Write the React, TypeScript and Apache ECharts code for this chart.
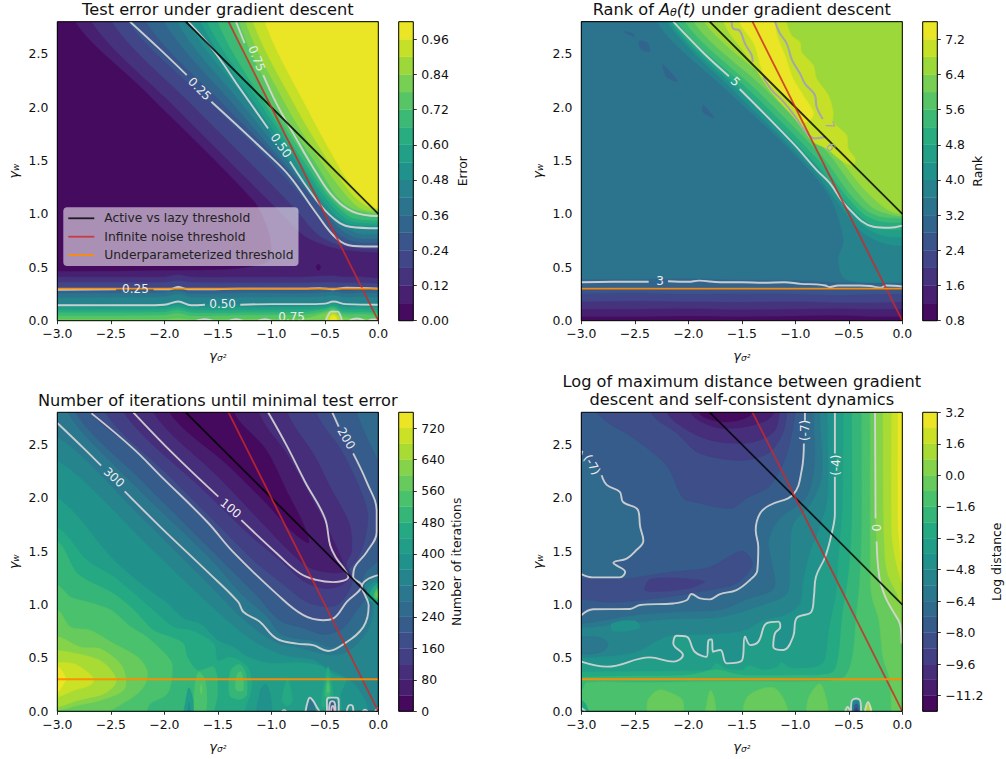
import React, { useEffect, useRef } from "react";
import * as echarts from "echarts";

type P = number[];
const L = -3.4, R = 0.4, T = 3.2, B = -0.4;
const FONT = "DejaVu Sans";

// closing helpers: they carry a curve's ends out past the plot so the clip trims them
const upperRight = (c: P[]): P[] => [...c, [R, c[c.length - 1][1]], [R, T], [c[0][0], T]];
const lowerRight = (c: P[]): P[] => [...c, [L, c[c.length - 1][1]], [L, B], [R, B], [R, T], [c[0][0], T]];
const rightOf = (c: P[]): P[] => [...c, [c[c.length - 1][0], B], [R, B], [R, T], [c[0][0], T]];
const topOpen = (c: P[]): P[] => [...c, [c[c.length - 1][0], T], [c[0][0], T]];
const bottomOpen = (c: P[]): P[] => [...c, [c[c.length - 1][0], B], [c[0][0], B]];
const below = (c: P[]): P[] => [...c, [R, c[c.length - 1][1]], [R, B], [L, B], [L, c[0][1]]];
const above = (c: P[]): P[] => [...c, [R, c[c.length - 1][1]], [R, T], [L, T], [L, c[0][1]]];
const lowerLeft = (c: P[]): P[] => [...c, [c[c.length - 1][0], B], [L, B], [L, c[0][1]]];
const leftOpen = (c: P[]): P[] => [...c, [L, c[c.length - 1][1]], [L, c[0][1]]];
const strip = (xs: number[], ys: number[]): P[] => xs.map((x, i) => [x, ys[i]]);
const FULL: P[] = [[L, B], [R, B], [R, T], [L, T]];

// Threshold lines
const activeLine: P[] = [[-1.8, 2.8], [0, 1]];
const noiseLine: P[] = [[-1.4, 2.8], [0, 0]];
const underLine: P[] = [[-3, 0.3], [0, 0.3]];
const xTicks = [-3, -2.5, -2, -1.5, -1, -0.5, 0];
const yTicks = [0, 0.5, 1, 1.5, 2, 2.5];

// ---------- Panel 1 : test error ----------
const errorLevels = [0, 0.06, 0.12, 0.18, 0.24, 0.3, 0.36, 0.42, 0.48, 0.54, 0.6, 0.66, 0.72, 0.78, 0.84, 0.9, 0.96, 1.02];
const errorTicks = [0, 0.12, 0.24, 0.36, 0.48, 0.6, 0.72, 0.84, 0.96];
const errLowX = [-3, -2.4, -2, -1.87, -1.75, -1.2, -0.7, -0.5, -0.42, -0.33, -0.15, 0];
const errorBands: [number, P[]][] = [
  [0, FULL],
  [1, [[-2.83, 2.8], [-2.2, 2.17], [-1.17, 1.13], [-1.04, 0.88], [-1.0, 0.7], [-1.02, 0.56], [-1.3, 0.49], [-2, 0.47], [-3, 0.46], [L, 0.46], [L, B], [R, B], [R, T], [-2.83, T]]],
  [2, upperRight([[-2.68, 2.8], [-1.9, 2.0], [-1.4, 1.5], [-0.95, 1.05], [-0.7, 0.8], [-0.45, 0.69], [-0.2, 0.65], [0, 0.64]])],
  [3, upperRight([[-2.49, 2.8], [-1.72, 2.0], [-1.22, 1.5], [-0.78, 1.05], [-0.58, 0.82], [-0.4, 0.72], [-0.2, 0.68], [0, 0.67]])],
  [4, upperRight([[-2.34, 2.8], [-1.53, 2.0], [-1.02, 1.5], [-0.6, 1.03], [-0.4, 0.78], [-0.23, 0.705], [0, 0.7]])],
  [5, upperRight([[-2.17, 2.8], [-1.42, 2.0], [-0.93, 1.5], [-0.55, 1.07], [-0.38, 0.82], [-0.22, 0.74], [0, 0.73]])],
  [6, upperRight([[-2.0, 2.8], [-1.33, 2.0], [-0.89, 1.49], [-0.55, 1.1], [-0.36, 0.86], [-0.2, 0.775], [0, 0.77]])],
  [7, upperRight([[-1.88, 2.8], [-1.25, 2.0], [-0.85, 1.5], [-0.55, 1.12], [-0.37, 0.92], [-0.2, 0.82], [0, 0.81]])],
  [8, upperRight([[-1.78, 2.8], [-1.18, 2.0], [-0.83, 1.5], [-0.58, 1.14], [-0.42, 0.96], [-0.265, 0.88], [0, 0.86]])],
  [9, upperRight([[-1.66, 2.8], [-1.13, 2.0], [-0.78, 1.5], [-0.54, 1.15], [-0.38, 0.97], [-0.25, 0.9], [0, 0.89]])],
  [10, upperRight([[-1.6, 2.8], [-1.08, 2.0], [-0.74, 1.5], [-0.51, 1.17], [-0.36, 1.0], [-0.24, 0.93], [0, 0.91]])],
  [11, upperRight([[-1.5, 2.8], [-1.04, 2.0], [-0.7, 1.5], [-0.48, 1.18], [-0.34, 1.03], [-0.23, 0.96], [0, 0.94]])],
  [12, upperRight([[-1.38, 2.8], [-0.99, 2.0], [-0.66, 1.5], [-0.45, 1.17], [-0.3, 1.03], [-0.22, 1.0], [0, 0.97]])],
  [13, upperRight([[-1.3, 2.8], [-0.93, 2.0], [-0.6, 1.5], [-0.39, 1.17], [-0.24, 1.05], [0, 1.0]])],
  [14, upperRight([[-1.24, 2.8], [-0.85, 2.0], [-0.54, 1.5], [-0.32, 1.2], [-0.18, 1.06], [0, 1.02]])],
  [15, upperRight([[-1.17, 2.8], [-0.77, 2.0], [-0.47, 1.5], [-0.26, 1.2], [-0.12, 1.08], [0, 1.04]])],
  [16, upperRight([[-1.06, 2.8], [-0.655, 1.97], [-0.4, 1.5], [-0.29, 1.32], [-0.135, 1.13], [0, 1.05]])],
  [2, below(strip(errLowX, [0.41, 0.41, 0.41, 0.43, 0.41, 0.41, 0.41, 0.42, 0.42, 0.41, 0.41, 0.4]))],
  [3, below(strip(errLowX, [0.36, 0.36, 0.36, 0.375, 0.36, 0.355, 0.355, 0.36, 0.36, 0.355, 0.355, 0.35]))],
  [4, below(strip(errLowX, [0.305, 0.305, 0.305, 0.32, 0.3, 0.305, 0.305, 0.31, 0.31, 0.3, 0.305, 0.305]))],
  [5, below(strip(errLowX, [0.28, 0.28, 0.285, 0.3, 0.28, 0.285, 0.28, 0.29, 0.295, 0.28, 0.285, 0.285]))],
  [6, below(strip(errLowX, [0.255, 0.255, 0.26, 0.28, 0.25, 0.26, 0.255, 0.265, 0.27, 0.255, 0.26, 0.26]))],
  [7, below(strip(errLowX, [0.215, 0.22, 0.225, 0.25, 0.22, 0.22, 0.22, 0.23, 0.24, 0.22, 0.225, 0.22]))],
  [8, below(strip(errLowX, [0.155, 0.155, 0.16, 0.185, 0.155, 0.155, 0.16, 0.165, 0.18, 0.16, 0.16, 0.155]))],
  [9, below(strip(errLowX, [0.125, 0.125, 0.13, 0.15, 0.125, 0.125, 0.13, 0.14, 0.16, 0.13, 0.13, 0.125]))],
  [10, below(strip(errLowX, [0.1, 0.1, 0.105, 0.125, 0.1, 0.1, 0.105, 0.12, 0.14, 0.105, 0.105, 0.1]))],
  [11, below(strip(errLowX, [0.075, 0.075, 0.08, 0.1, 0.075, 0.075, 0.08, 0.105, 0.125, 0.08, 0.08, 0.075]))],
  [12, below(strip(errLowX, [0.045, 0.045, 0.05, 0.07, 0.045, 0.05, 0.055, 0.085, 0.11, 0.06, 0.06, 0.05]))],
  [13, below(strip(errLowX, [0.012, 0.012, 0.012, 0.02, 0.012, 0.015, 0.02, 0.07, 0.095, 0.035, 0.02, 0.015]))],
  [14, bottomOpen([[-0.5, -0.1], [-0.49, 0.04], [-0.42, 0.08], [-0.35, 0.04], [-0.34, -0.1]])],
  [15, bottomOpen([[-0.48, -0.1], [-0.47, 0.03], [-0.42, 0.065], [-0.37, 0.03], [-0.36, -0.1]])],
  [16, bottomOpen([[-0.46, -0.1], [-0.45, 0.02], [-0.42, 0.05], [-0.39, 0.02], [-0.38, -0.1]])],
  [0, [[-0.58, 0.5], [-0.56, 0.53], [-0.54, 0.5], [-0.56, 0.47]]],
];
const errorContours: P[][] = [
  [[-2.32, 2.8], [-2.05, 2.55], [-1.79, 2.3]],
  [[-1.56, 2.05], [-1.04, 1.567], [-0.826, 1.35], [-0.58, 1.006], [-0.39, 0.77], [-0.234, 0.7], [0, 0.695]],
  [[-1.776, 2.8], [-1.54, 2.53], [-1.29, 2.17], [-1.03, 1.8]],
  [[-0.826, 1.49], [-0.58, 1.13], [-0.42, 0.96], [-0.265, 0.88], [0, 0.866]],
  [[-1.33, 2.8], [-1.25, 2.6]],
  [[-1.075, 2.3], [-0.95, 2.03], [-0.795, 1.754], [-0.576, 1.38], [-0.42, 1.16], [-0.234, 1.02], [0, 0.98]],
  [[-3, 0.29], [-2.45, 0.295]],
  [[-2.1, 0.295], [-1.95, 0.295], [-1.87, 0.315], [-1.78, 0.295], [-1.6, 0.295], [-1.3, 0.3], [-1, 0.3], [-0.7, 0.3], [-0.55, 0.305], [-0.42, 0.295], [-0.3, 0.31], [0, 0.3]],
  [[-3, 0.145], [-2.2, 0.145], [-2, 0.15], [-1.87, 0.18], [-1.75, 0.145], [-1.62, 0.15]],
  [[-1.29, 0.15], [-1, 0.155], [-0.7, 0.155], [-0.5, 0.16], [-0.42, 0.18], [-0.3, 0.155], [0, 0.15]],
  [[-0.49, 0], [-0.47, 0.05], [-0.44, 0.085], [-0.38, 0.085], [-0.355, 0.05], [-0.34, 0]],
  [[-1.7, 0], [-1.62, 0.015], [-1.55, 0]],
  [[-1.39, 0], [-1.33, 0.015], [-1.27, 0]],
  [[-1.12, 0], [-1.06, 0.015], [-1, 0]],
  [[-0.27, 0], [-0.2, 0.02], [-0.13, 0]],
  [[-0.09, 0], [-0.05, 0.012], [0, 0.01]],
];
const errorLabels: [string, number, number, number][] = [
  ["0.25", -1.67, 2.17, -45], ["0.50", -0.91, 1.64, -55], ["0.75", -1.137, 2.455, -68],
  ["0.25", -2.27, 0.296, 0], ["0.50", -1.455, 0.155, 0], ["0.75", -0.81, 0.03, 0],
];

// ---------- Panel 2 : rank ----------
const rankLevels = [0.8, 1.2, 1.6, 2, 2.4, 2.8, 3.2, 3.6, 4, 4.4, 4.8, 5.2, 5.6, 6, 6.4, 6.8, 7.2, 7.6];
const rankTicks = [0.8, 1.6, 2.4, 3.2, 4, 4.8, 5.6, 6.4, 7.2];
const rankLowX = [-3, -2.5, -2, -1.5, -1, -0.6, -0.3, 0];
const rankBands: [number, P[]][] = [
  [0, FULL],
  [1, above(strip(rankLowX, [0.04, 0.04, 0.045, 0.04, 0.045, 0.05, 0.04, 0.04]))],
  [2, above(strip(rankLowX, [0.11, 0.11, 0.115, 0.105, 0.11, 0.115, 0.11, 0.11]))],
  [3, above(strip(rankLowX, [0.18, 0.185, 0.18, 0.175, 0.18, 0.17, 0.17, 0.175]))],
  [4, above(strip(rankLowX, [0.255, 0.26, 0.25, 0.255, 0.25, 0.24, 0.25, 0.25]))],
  [5, above(strip(rankLowX, [0.315, 0.31, 0.315, 0.31, 0.31, 0.3, 0.3, 0.3]))],
  [6, above(strip(rankLowX, [0.39, 0.39, 0.395, 0.385, 0.38, 0.36, 0.36, 0.35]))],
  [5, [[-2.6, 2.71], [-2.52, 2.69], [-2.5, 2.66], [-2.58, 2.69]]],
  [5, [[-2.46, 2.62], [-2.38, 2.6], [-2.36, 2.52], [-2.44, 2.54]]],
  [5, [[-2.24, 2.4], [-2.14, 2.3], [-2.1, 2.24], [-2.2, 2.28]]],
  [5, [[-1.86, 2.02], [-1.78, 1.93], [-1.76, 1.9], [-1.86, 1.95]]],
  [7, upperRight([[-2.3, 2.8], [-1.6, 2.12], [-1.0, 1.55], [-0.68, 1.16], [-0.55, 0.757], [-0.6, 0.57], [-0.55, 0.4], [-0.4, 0.36], [0, 0.36]])],
  [8, upperRight([[-2.2, 2.8], [-1.5, 2.08], [-0.85, 1.43], [-0.6, 1.1], [-0.4, 0.85], [-0.2, 0.73], [0, 0.7]])],
  [9, upperRight([[-2.17, 2.8], [-1.47, 2.1], [-0.82, 1.46], [-0.57, 1.13], [-0.38, 0.9], [-0.2, 0.8], [0, 0.78]])],
  [10, upperRight([[-2.15, 2.8], [-1.45, 2.12], [-0.8, 1.46], [-0.55, 1.14], [-0.36, 0.95], [-0.2, 0.86], [0, 0.85]])],
  [11, upperRight([[-2.1, 2.8], [-1.42, 2.15], [-0.78, 1.5], [-0.53, 1.18], [-0.36, 1.0], [-0.2, 0.93], [0, 0.92]])],
  [12, upperRight([[-2.03, 2.8], [-1.35, 2.15], [-0.74, 1.53], [-0.5, 1.2], [-0.33, 1.03], [-0.18, 0.97], [0, 0.96]])],
  [13, upperRight([[-1.95, 2.8], [-1.28, 2.17], [-0.7, 1.58], [-0.45, 1.24], [-0.28, 1.06], [-0.13, 1.0], [0, 0.98]])],
  [14, upperRight([[-1.85, 2.8], [-1.2, 2.2], [-0.65, 1.6], [-0.4, 1.28], [-0.22, 1.1], [-0.1, 1.02], [0, 1.0]])],
  [15, topOpen([[-1.67, 2.8], [-1.42, 2.44], [-1.24, 2.16], [-1.02, 1.91], [-0.92, 1.78], [-0.83, 1.67], [-0.707, 1.61], [-0.55, 1.486], [-0.458, 1.455], [-0.44, 1.517], [-0.505, 1.61], [-0.52, 1.735], [-0.645, 1.86], [-0.645, 1.953], [-0.69, 2.11], [-0.8, 2.265], [-0.83, 2.39], [-0.94, 2.514], [-0.956, 2.607], [-1.034, 2.67], [-1.08, 2.8]])],
  [16, topOpen([[-1.52, 2.8], [-1.39, 2.6], [-1.27, 2.25], [-1.1, 2.12], [-1.0, 1.98], [-0.92, 1.86], [-0.86, 1.876], [-0.83, 1.953], [-0.925, 2.11], [-1.02, 2.265], [-1.096, 2.48], [-1.17, 2.67], [-1.19, 2.8]])],
];
const rankContours: P[][] = [
  [[-2.14, 2.8], [-1.85, 2.5], [-1.62, 2.29]],
  [[-1.52, 2.17], [-1.02, 1.66], [-0.8, 1.41], [-0.68, 1.29], [-0.52, 1.07], [-0.27, 0.88], [-0.12, 0.87], [0, 0.89]],
  [[-3, 0.36], [-2.7, 0.365], [-2.37, 0.365]],
  [[-2.19, 0.37], [-2, 0.365], [-1.9, 0.375], [-1.7, 0.36], [-1.5, 0.36], [-1.3, 0.355], [-1.1, 0.36], [-0.95, 0.345], [-0.8, 0.34], [-0.72, 0.33], [-0.68, 0.315], [-0.6, 0.33], [-0.4, 0.33], [-0.3, 0.325], [-0.2, 0.31], [-0.15, 0.33], [0, 0.32]],
];
const rankHighContours: P[][] = [
  [[-1.594, 2.8], [-1.58, 2.735], [-1.523, 2.72], [-1.47, 2.595], [-1.408, 2.486], [-1.398, 2.42]],
  [[-1.3, 2.283], [-1.22, 2.16], [-1.11, 2.05], [-1.0, 1.91], [-0.925, 1.8], [-0.816, 1.707], [-0.72, 1.72]],
  [[-1.19, 2.8], [-1.143, 2.69], [-1.08, 2.595], [-1.03, 2.44], [-0.956, 2.315], [-0.91, 2.22], [-0.816, 2.11], [-0.8, 2.0], [-0.744, 1.888]],
];
const rankLabels: [string, number, number, number][] = [["5", -1.56, 2.24, -45], ["3", -2.265, 0.375, 0]];
const rankHighLabels: [string, number, number, number][] = [["7", -0.68, 1.83, -70], ["6", -0.67, 1.625, -62]];

// ---------- Panel 3 : iterations ----------
const iterLevels = [0, 40, 80, 120, 160, 200, 240, 280, 320, 360, 400, 440, 480, 520, 560, 600, 640, 680, 720, 760];
const iterTicks = [0, 80, 160, 240, 320, 400, 480, 560, 640, 720];
const iterContour300: P[] = [[-2.37, 2.06], [-2.04, 1.73], [-1.6, 1.31], [-1.31, 1.025], [-1.26, 0.93], [-1.11, 0.84], [-0.95, 0.68], [-0.76, 0.634], [-0.61, 0.62], [-0.47, 0.565], [-0.33, 0.625], [-0.14, 0.79], [-0.09, 0.99], [-0.125, 1.09], [-0.155, 1.165], [-0.11, 1.23], [0, 1.275]];
const iterBands: [number, P[]][] = [
  [7, FULL],
  [8, below([[-3, 2.57], [-2.2, 1.8], [-1.55, 1.15], [-1.25, 0.85], [-0.95, 0.64], [-0.76, 0.6], [-0.47, 0.53], [-0.3, 0.55], [-0.1, 0.75], [-0.05, 1.0], [-0.15, 1.15], [0, 1.25]])],
  [9, lowerLeft([[-3, 2.35], [-2.1, 1.5], [-1.6, 1.02], [-1.2, 0.68], [-0.9, 0.53], [-0.6, 0.48], [-0.5, 0.42], [-0.25, 0.28], [-0.12, 0.1], [-0.08, -0.1]])],
  [10, lowerLeft([[-3, 2.0], [-2.47, 1.415], [-2.16, 1.15], [-1.97, 1.01], [-1.82, 0.87], [-1.66, 0.82], [-1.5, 0.665], [-1.35, 0.6], [-1.22, 0.51], [-1, 0.45], [-0.76, 0.46], [-0.55, 0.43], [-0.4, 0.34], [-0.3, 0.3], [-0.35, 0.15], [-0.32, -0.1]])],
  [11, lowerLeft([[-3, 1.72], [-2.72, 1.415], [-2.47, 1.26], [-2.28, 1.1], [-2.1, 0.945], [-1.91, 0.79], [-1.75, 0.76], [-1.535, 0.634], [-1.5, 0.477], [-1.38, 0.51], [-1.22, 0.415], [-1.18, 0.227], [-1.25, 0], [-1.25, -0.1]])],
  [12, lowerLeft([[-3, 1.59], [-2.81, 1.29], [-2.47, 1.1], [-2.28, 0.945], [-2.1, 0.76], [-1.94, 0.696], [-1.82, 0.634], [-1.785, 0.51], [-1.69, 0.385], [-1.535, 0.415], [-1.5, 0.165], [-1.535, 0], [-1.535, -0.1]])],
  [13, lowerLeft([[-3, 1.18], [-2.875, 1.07], [-2.66, 1.01], [-2.49, 0.945], [-2.31, 0.79], [-2.16, 0.696], [-1.94, 0.477], [-1.925, 0.35], [-1.97, 0.165], [-2.13, 0.07], [-2.16, 0], [-2.16, -0.1]])],
  [14, lowerLeft([[-3, 0.946], [-2.875, 0.79], [-2.69, 0.76], [-2.47, 0.634], [-2.25, 0.51], [-2.16, 0.384], [-2.175, 0.26], [-2.25, 0.165], [-2.44, 0.04], [-2.5, 0], [-2.5, -0.1]])],
  [15, leftOpen([[-3, 0.7], [-2.78, 0.6], [-2.6, 0.587], [-2.41, 0.446], [-2.36, 0.32], [-2.38, 0.196], [-2.6, 0.1], [-2.81, 0.055], [-3, 0.01]])],
  [16, leftOpen([[-3, 0.57], [-2.81, 0.54], [-2.6, 0.477], [-2.47, 0.35], [-2.455, 0.26], [-2.56, 0.165], [-2.81, 0.1], [-3, 0.04]])],
  [17, leftOpen([[-3, 0.46], [-2.84, 0.446], [-2.72, 0.37], [-2.66, 0.305], [-2.69, 0.243], [-2.84, 0.196], [-3, 0.134]])],
  [18, leftOpen([[-3, 0.42], [-2.95, 0.37], [-2.92, 0.3], [-2.95, 0.24], [-3, 0.18]])],
  [10, bottomOpen([[-1.83, -0.1], [-1.8, 0.1], [-1.77, 0.22], [-1.73, 0.1], [-1.72, -0.1]])],
  [9, bottomOpen([[-1.79, -0.1], [-1.77, 0.08], [-1.745, -0.1]])],
  [13, bottomOpen([[-1.72, -0.1], [-1.72, 0.2], [-1.68, 0.37], [-1.62, 0.3], [-1.6, 0.1], [-1.62, -0.1]])],
  [14, [[-1.665, 0.2], [-1.655, 0.26], [-1.645, 0.2], [-1.655, 0.16]]],
  [12, [[-1.39, 0.15], [-1.38, 0.38], [-1.3, 0.44], [-1.24, 0.36], [-1.23, 0.15], [-1.3, 0.11]]],
  [13, [[-1.33, 0.2], [-1.32, 0.35], [-1.28, 0.37], [-1.26, 0.2]]],
  [9, bottomOpen([[-1.15, -0.1], [-1.1, 0.2], [-1.05, 0.25], [-1, 0.1], [-1, -0.1]])],
  [11, [[-0.53, 0.05], [-0.5, 0.3], [-0.47, 0.42], [-0.44, 0.3], [-0.42, 0.1], [-0.47, 0.04]]],
  [12, [[-0.5, 0.15], [-0.47, 0.33], [-0.445, 0.2], [-0.47, 0.12]]],
  [13, [[-0.485, 0.2], [-0.47, 0.28], [-0.455, 0.2], [-0.47, 0.17]]],
  [11, [[-0.9, 0.1], [-0.85, 0.3], [-0.8, 0.1], [-0.85, 0.05]]],
  [6, [[-2.9, T], [-2.9, 2.8], [-2.3, 2.14], [-1.55, 1.41], [-1.28, 1.1], [-1.05, 0.9], [-0.9, 0.72], [-0.6, 0.66], [-0.45, 0.6], [-0.3, 0.66], [-0.12, 0.85], [-0.07, 1.0], [-0.14, 1.17], [-0.1, 1.22], [0, 1.28], [R, 1.28], [R, T]]],
  [5, topOpen([[-2.83, 2.8], [-2.2, 2.15], [-1.5, 1.45], [-1.15, 1.1], [-0.92, 0.85], [-0.7, 0.78], [-0.5, 0.72], [-0.33, 0.78], [-0.2, 0.95], [-0.1, 1.1], [-0.15, 1.2], [-0.12, 1.3], [0, 1.42], [0.1, 1.7], [0.05, 2.2], [-0.2, 2.8]])],
  [4, topOpen([[-2.68, 2.8], [-2.29, 2.46], [-2.04, 2.21], [-1.6, 1.775], [-1.355, 1.49], [-0.95, 1.1], [-0.7, 0.9], [-0.515, 0.853], [-0.42, 0.87], [-0.295, 1.025], [-0.155, 1.18], [-0.235, 1.26], [-0.22, 1.35], [-0.11, 1.49], [-0.015, 1.68], [-0.015, 1.87], [-0.11, 2.15], [-0.235, 2.415], [-0.37, 2.665], [-0.43, 2.8]])],
  [3, topOpen([[-2.55, 2.8], [-1.95, 2.2], [-1.5, 1.75], [-1.15, 1.4], [-0.9, 1.2], [-0.68, 1.03], [-0.5, 0.98], [-0.38, 1.0], [-0.28, 1.12], [-0.24, 1.24], [-0.28, 1.32], [-0.2, 1.42], [-0.13, 1.6], [-0.1, 1.85], [-0.2, 2.15], [-0.35, 2.45], [-0.58, 2.8]])],
  [2, topOpen([[-2.38, 2.8], [-1.6, 2.04], [-1.2, 1.65], [-0.9, 1.4], [-0.7, 1.22], [-0.5, 1.15], [-0.35, 1.18], [-0.26, 1.27], [-0.3, 1.38], [-0.25, 1.5], [-0.27, 1.75], [-0.45, 2.1], [-0.6, 2.4], [-0.85, 2.8]])],
  [1, topOpen([[-2.1, 2.8], [-1.5, 2.2], [-1.1, 1.78], [-0.85, 1.52], [-0.65, 1.35], [-0.45, 1.3], [-0.32, 1.32], [-0.42, 1.6], [-0.6, 1.95], [-0.85, 2.4], [-1.12, 2.8]])],
  [0, topOpen([[-1.95, 2.8], [-1.4, 2.3], [-1.05, 1.95], [-0.8, 1.68], [-0.65, 1.58], [-0.7, 1.75], [-0.85, 2.05], [-1.05, 2.45], [-1.35, 2.8]])],
  [9, [[0.05, 1.22], [0, 1.22], [-0.05, 1.2], [-0.1, 1.15], [-0.11, 1.05], [-0.05, 1.02], [0, 1.0], [0.05, 1.0]]],
  [11, [[0.05, 1.2], [0, 1.2], [-0.04, 1.17], [-0.08, 1.1], [-0.05, 1.03], [0, 1.02], [0.05, 1.02]]],
  [13, [[0.05, 1.16], [0, 1.16], [-0.03, 1.12], [-0.04, 1.07], [0, 1.04], [0.05, 1.04]]],
  [15, [[0.05, 1.13], [0, 1.13], [-0.015, 1.09], [0, 1.06], [0.05, 1.06]]],
  [7, bottomOpen([[-0.67, -0.1], [-0.66, 0.08], [-0.63, 0.12], [-0.6, 0.08], [-0.58, -0.1]])],
  [7, bottomOpen([[-0.48, -0.1], [-0.48, 0.08], [-0.43, 0.12], [-0.38, 0.08], [-0.38, -0.1]])],
  [5, bottomOpen([[-0.46, -0.1], [-0.46, 0.06], [-0.43, 0.09], [-0.4, 0.06], [-0.4, -0.1]])],
  [3, bottomOpen([[-0.445, -0.1], [-0.445, 0.04], [-0.43, 0.06], [-0.415, 0.04], [-0.415, -0.1]])],
  [1, bottomOpen([[-0.435, -0.1], [-0.435, 0.015], [-0.43, 0.025], [-0.425, 0.015], [-0.425, -0.1]])],
];
const iterContours: P[][] = [
  [[-3, 2.7], [-2.75, 2.46], [-2.59, 2.3]],
  iterContour300,
  [[-2.68, 2.79], [-2.29, 2.46], [-2.04, 2.21], [-1.6, 1.775], [-1.355, 1.49], [-0.95, 1.1], [-0.7, 0.9], [-0.515, 0.853], [-0.42, 0.87], [-0.295, 1.025], [-0.155, 1.18], [-0.235, 1.26], [-0.22, 1.35], [-0.11, 1.49], [-0.015, 1.68], [-0.015, 1.87], [-0.11, 2.15], [-0.235, 2.415]],
  [[-0.37, 2.665], [-0.43, 2.8]],
  [[-2.29, 2.8], [-1.92, 2.415], [-1.495, 2.01]],
  [[-1.28, 1.79], [-0.95, 1.48], [-0.73, 1.29], [-0.58, 1.23], [-0.42, 1.21], [-0.28, 1.26], [-0.33, 1.35], [-0.39, 1.43], [-0.45, 1.556], [-0.5, 1.81], [-0.685, 2.15], [-0.857, 2.49], [-1.03, 2.8]],
  [[-0.68, 0], [-0.66, 0.09], [-0.64, 0.128], [-0.61, 0.1], [-0.57, 0.03], [-0.55, 0]],
  [[-0.48, 0], [-0.48, 0.1], [-0.46, 0.128], [-0.39, 0.128], [-0.37, 0.1], [-0.37, 0]],
  [[-0.46, 0], [-0.455, 0.07], [-0.43, 0.095], [-0.405, 0.07], [-0.4, 0]],
  [[-0.44, 0], [-0.435, 0.04], [-0.425, 0.05], [-0.415, 0.04], [-0.41, 0]],
  [[-0.295, 0], [-0.28, 0.05], [-0.26, 0.06], [-0.24, 0.05], [-0.233, 0]],
  [[-0.147, 0], [-0.125, 0.015], [-0.1, 0]],
  [[-0.9, 0], [-0.88, 0.01], [-0.86, 0]],
  [[-0.03, 0], [-0.01, 0.025], [0, 0.03]],
];
const iterLabels: [string, number, number, number][] = [["300", -2.47, 2.19, -42], ["100", -1.38, 1.9, -40], ["200", -0.3, 2.556, -60]];

// ---------- Panel 4 : log distance ----------
const distLevels = [-12, -11.2, -10.4, -9.6, -8.8, -8, -7.2, -6.4, -5.6, -4.8, -4, -3.2, -2.4, -1.6, -0.8, 0, 0.8, 1.6, 2.4, 3.2];
const distTicks = [-11.2, -9.6, -8, -6.4, -4.8, -3.2, -1.6, 0, 1.6, 3.2];
const distMinus4: P[] = [[-0.63, 2.8], [-0.63, 2.414], [-0.63, 2.196], [-0.63, 1.853], [-0.66, 1.666], [-0.72, 1.447], [-0.807, 1.26], [-0.826, 1.073], [-0.85, 0.933], [-0.99, 0.87], [-1.02, 0.7], [-1.11, 0.574], [-1.206, 0.605], [-1.19, 0.73], [-1.14, 0.79], [-1.16, 0.84], [-1.27, 0.823], [-1.345, 0.652], [-1.42, 0.62], [-1.47, 0.7], [-1.5, 0.474], [-1.64, 0.449], [-1.7, 0.574], [-1.77, 0.558], [-1.78, 0.674], [-1.81, 0.667], [-1.83, 0.51], [-1.94, 0.558], [-2.016, 0.7], [-2.11, 0.708], [-2.14, 0.636], [-2.05, 0.527], [-2.14, 0.465], [-2.36, 0.505], [-2.76, 0.418], [-3, 0.465]];
const distMinus7: P[] = [[-0.91, 2.8], [-0.92, 2.508], [-0.94, 2.258], [-1.02, 2.03], [-1.24, 1.93], [-1.33, 1.853], [-1.37, 1.697], [-1.346, 1.54], [-1.355, 1.32], [-1.424, 1.23], [-1.55, 1.135], [-1.704, 1.098], [-1.8, 1.048], [-1.89, 1.057], [-1.97, 1.098], [-2.016, 1.04], [-2.14, 1.01], [-2.45, 0.995], [-2.545, 0.958], [-2.89, 0.955], [-3, 0.9]];
const distLoop: P[] = [[-3, 1.285], [-2.89, 1.254], [-2.64, 1.254], [-2.59, 1.307], [-2.7, 1.39], [-2.576, 1.43], [-2.5, 1.494], [-2.42, 1.6], [-2.45, 1.728], [-2.47, 1.884], [-2.61, 1.96], [-2.64, 2.055], [-2.76, 2.118], [-2.81, 2.21]];
const distZero: P[] = [[-0.255, 2.8], [-0.25, 1.806], [-0.24, 1.59], [-0.215, 1.26], [-0.16, 1.073], [-0.085, 0.933], [-0.02, 0.81], [-0.006, 0.636]];
const distBands: [number, P[]][] = [
  [5, FULL],
  [6, lowerRight(distMinus7)],
  [6, leftOpen([...distLoop, [-2.97, 2.37]])],
  [7, lowerRight([[-0.83, 2.8], [-0.82, 2.3], [-0.9, 2.0], [-1.15, 1.8], [-1.25, 1.6], [-1.22, 1.4], [-1.2, 1.15], [-1.45, 1.05], [-1.7, 0.95], [-2.1, 0.93], [-2.5, 0.9], [-3, 0.82]])],
  [8, lowerRight([[-0.77, 2.8], [-0.75, 2.2], [-0.85, 1.95], [-1.02, 1.75], [-1.05, 1.4], [-1.08, 1.1], [-1.35, 0.98], [-1.7, 0.88], [-2.2, 0.86], [-3, 0.78]])],
  [9, lowerRight([[-0.7, 2.8], [-0.7, 2.0], [-0.78, 1.7], [-0.86, 1.5], [-0.93, 1.2], [-0.96, 1.0], [-1.1, 0.9], [-1.3, 0.85], [-1.5, 0.75], [-1.85, 0.72], [-2.2, 0.7], [-2.5, 0.55], [-3, 0.5]])],
  [9, [[-2.72, 0.82], [-2.5, 0.85], [-2.45, 0.78], [-2.7, 0.75]]],
  [7, leftOpen([[-3, 0.7], [-2.82, 0.69], [-2.75, 0.63], [-2.8, 0.56], [-3, 0.53]])],
  [10, lowerRight(distMinus4)],
  [11, lowerRight([[-0.55, 2.8], [-0.56, 1.9], [-0.6, 1.4], [-0.62, 1.1], [-0.68, 0.8], [-0.72, 0.5], [-0.76, 0.44], [-0.85, 0.41], [-1.05, 0.41], [-1.13, 0.46], [-1.18, 0.41], [-1.3, 0.39], [-1.43, 0.43], [-1.5, 0.39], [-1.65, 0.4], [-1.74, 0.45], [-1.8, 0.39], [-2, 0.38], [-2.4, 0.375], [-3, 0.37]])],
  [12, lowerRight([[-0.47, 2.8], [-0.47, 1.8], [-0.5, 1.3], [-0.56, 0.9], [-0.6, 0.5], [-0.66, 0.36], [-1, 0.34], [-1.5, 0.34], [-1.74, 0.39], [-2, 0.34], [-2.6, 0.33], [-3, 0.32]])],
  [13, lowerRight([[-0.38, 2.8], [-0.38, 1.7], [-0.4, 1.2], [-0.43, 0.9], [-0.47, 0.5], [-0.55, 0.32], [-0.9, 0.28], [-1.3, 0.28], [-1.75, 0.28], [-2.4, 0.27], [-2.95, 0.27], [-3, 0.2]])],
  [14, rightOf([[-0.3, 2.8], [-0.3, 1.6], [-0.29, 1.1], [-0.22, 0.85], [-0.18, 0.5], [-0.12, 0.3], [-0.1, -0.1]])],
  [14, bottomOpen([[-2.38, -0.1], [-2.38, 0.1], [-2.28, 0.2], [-2.15, 0.17], [-2.05, 0.1], [-2.05, -0.1]])],
  [14, bottomOpen([[-1.85, -0.1], [-1.82, 0.12], [-1.79, 0.2], [-1.75, 0.1], [-1.74, -0.1]])],
  [14, bottomOpen([[-1.5, -0.1], [-1.46, 0.12], [-1.35, 0.2], [-1.2, 0.22], [-1.1, 0.1], [-1.05, -0.1]])],
  [14, bottomOpen([[-0.9, -0.1], [-0.88, 0.12], [-0.77, 0.26], [-0.71, 0.12], [-0.68, -0.1]])],
  [11, [[L, 0.1], [-3, 0.1], [-2.95, 0.05], [-2.92, -0.1], [L, -0.1]]],
  [15, upperRight(distZero)],
  [16, upperRight([[-0.18, 2.8], [-0.17, 1.6], [-0.14, 1.3], [-0.05, 1.1], [0, 1.0]])],
  [17, upperRight([[-0.1, 2.8], [-0.1, 1.7], [-0.07, 1.45], [-0.02, 1.25], [0, 1.2]])],
  [18, upperRight([[-0.04, 2.8], [-0.04, 1.8], [-0.02, 1.5], [0, 1.4]])],
  [4, topOpen([[-2.85, 2.8], [-2.5, 2.55], [-2.2, 2.3], [-2.05, 2.0], [-1.9, 1.95], [-1.6, 1.9], [-1.45, 2.0], [-1.25, 2.1], [-1.1, 2.35], [-1.0, 2.8]])],
  [3, topOpen([[-2.35, 2.8], [-2.1, 2.6], [-1.9, 2.42], [-1.5, 2.35], [-1.25, 2.42], [-1.12, 2.6], [-1.08, 2.8]])],
  [2, topOpen([[-2.2, 2.8], [-1.95, 2.6], [-1.7, 2.52], [-1.4, 2.52], [-1.2, 2.62], [-1.15, 2.8]])],
  [1, topOpen([[-1.98, 2.8], [-1.75, 2.66], [-1.5, 2.66], [-1.28, 2.72], [-1.2, 2.8]])],
  [0, topOpen([[-1.9, 2.8], [-1.75, 2.72], [-1.55, 2.72], [-1.4, 2.8]])],
  [4, leftOpen([[-3, 1.05], [-2.7, 1.02], [-2.2, 1.07], [-1.9, 1.12], [-1.55, 1.2], [-1.4, 1.38], [-1.5, 1.5], [-1.8, 1.35], [-2.2, 1.3], [-2.6, 1.24], [-3, 1.24]])],
  [3, [[-2.4, 1.13], [-2.0, 1.15], [-1.85, 1.22], [-2.35, 1.24]]],
  [15, bottomOpen([[-0.535, -0.1], [-0.52, 0.03], [-0.49, -0.1]])],
  [16, bottomOpen([[-0.35, -0.1], [-0.34, 0.05], [-0.32, 0.08], [-0.29, 0.04], [-0.28, -0.1]])],
  [10, bottomOpen([[-0.48, -0.1], [-0.48, 0.1], [-0.43, 0.125], [-0.385, 0.1], [-0.385, -0.1]])],
  [8, bottomOpen([[-0.465, -0.1], [-0.465, 0.08], [-0.43, 0.1], [-0.4, 0.08], [-0.4, -0.1]])],
  [5, bottomOpen([[-0.45, -0.1], [-0.45, 0.05], [-0.43, 0.07], [-0.41, 0.05], [-0.41, -0.1]])],
  [3, bottomOpen([[-0.44, -0.1], [-0.44, 0.02], [-0.43, 0.03], [-0.42, 0.02], [-0.42, -0.1]])],
];
const distContours: P[][] = [
  distMinus4.slice(0, 2),
  distMinus4.slice(2),
  [[-0.91, 2.8], [-0.91, 2.72]],
  distMinus7.slice(1),
  distLoop,
  [[-2.99, 2.44], [-3, 2.4]],
  distZero.slice(0, 2),
  distZero.slice(2),
  [[-0.48, 0], [-0.475, 0.09], [-0.43, 0.12], [-0.39, 0.09], [-0.385, 0]],
  [[-0.535, 0], [-0.51, 0.04], [-0.49, 0]],
  [[-0.35, 0], [-0.32, 0.087], [-0.29, 0]],
  [[-3, 0.03], [-2.96, 0]],
];
const distLabels: [string, number, number, number][] = [
  ["(-7)", -0.91, 2.63, 90], ["(-4)", -0.62, 2.305, 90], ["0", -0.24, 1.72, 90], ["(-7)", -2.9, 2.31, -60],
];

// ---------- drawing ----------
const VIRIDIS = [[68, 1, 84], [72, 36, 117], [65, 68, 135], [53, 95, 141], [42, 120, 142], [33, 145, 140], [34, 168, 132], [68, 191, 112], [122, 209, 81], [189, 223, 38], [253, 231, 37]];
const viridis = (t: number) => {
  const f = Math.min(t, 0.9999) * 10, i = Math.floor(f), u = f - i;
  const c = VIRIDIS[i].map((a, k) => Math.round(a + (VIRIDIS[i + 1][k] - a) * u));
  return `rgb(${c[0]},${c[1]},${c[2]})`;
};

type Panel = {
  title: any; titleTop: number; px: number; py: number; cx: number; unit: string; cbGap: number;
  levels: number[]; ticks: number[]; digits: number; bands: [number, P[]][];
  contours: P[][]; labels: [string, number, number, number][];
  high?: P[][]; highLabels?: [string, number, number, number][];
};
const panels: Panel[] = [
  { title: "Test error under gradient descent", titleTop: 0, px: 57.3, py: 21.7, cx: 398.7, unit: "Error", cbGap: 43, levels: errorLevels, ticks: errorTicks, digits: 2, bands: errorBands, contours: errorContours, labels: errorLabels },
  { title: "Rank of {i|A}{s|θ}{i|(t)} under gradient descent", titleTop: 0, px: 581.3, py: 21.7, cx: 922.7, unit: "Rank", cbGap: 34, levels: rankLevels, ticks: rankTicks, digits: 1, bands: rankBands, contours: rankContours, labels: rankLabels, high: rankHighContours, highLabels: rankHighLabels },
  { title: "Number of iterations until minimal test error", titleTop: 391, px: 57.3, py: 412.3, cx: 398.7, unit: "Number of iterations", cbGap: 37, levels: iterLevels, ticks: iterTicks, digits: 0, bands: iterBands, contours: iterContours, labels: iterLabels },
  { title: "Log of maximum distance between gradient\ndescent and self-consistent dynamics", titleTop: 372, px: 581.3, py: 412.3, cx: 922.7, unit: "Log distance", cbGap: 53, levels: distLevels, ticks: distTicks, digits: 1, bands: distBands, contours: distContours, labels: distLabels },
];
const PW = 321, PH = 299, CW = 14.6, TICK_FONT = 12.4, TITLE_FONT = 16.2;
const tick = { length: 3.5, lineStyle: { color: "#000", width: 0.8 } };
const minus = (s: string) => s.replace("-", "\u2212");
const labelSeries = (i: number, items: [string, number, number, number][], fill: string) => ({
  type: "custom", xAxisIndex: i, yAxisIndex: i, silent: true, clip: true, z: 6, data: items.map((_, k) => [k]),
  renderItem: (p: any, api: any) => {
    const [text, x, y, rot] = items[p.dataIndex];
    const c = api.coord([x, y]);
    return { type: "text", x: c[0], y: c[1], rotation: (rot * Math.PI) / 180, style: { text, fill, fontSize: 12, fontFamily: FONT, align: "center", verticalAlign: "middle" } };
  },
});
const lineSeries = (i: number, data: P[], color: string, width: number, name?: string, smooth: number | boolean = 0.4) => ({
  type: "line", name, xAxisIndex: i, yAxisIndex: i, data, symbol: "none", showSymbol: false, silent: true, smooth, z: name ? 5 : 4,
  lineStyle: { color, width }, itemStyle: { color },
});
const nameRich = {
  g: { fontFamily: FONT, fontStyle: "italic", fontSize: 13, color: "#111" },
  s: { fontFamily: FONT, fontStyle: "italic", fontSize: 9, color: "#111", padding: [5, 0, 0, 0] },
};

function buildOption() {
  const grid: any[] = [], xAxis: any[] = [], yAxis: any[] = [], series: any[] = [], title: any[] = [];
  panels.forEach((p, i) => {
    const colors = p.levels.slice(0, -1).map((_, k) => viridis((k + 0.5) / (p.levels.length - 1)));
    const cb = i + 4;
    grid[i] = { left: p.px, top: p.py, width: PW, height: PH, containLabel: false };
    grid[cb] = { left: p.cx, top: p.py, width: CW, height: PH, containLabel: false };
    title.push({
      text: p.title, left: p.px + PW / 2, top: p.titleTop, padding: 0, textAlign: "center",
      textStyle: { fontFamily: FONT, fontSize: TITLE_FONT, fontWeight: "normal", color: "#111", lineHeight: 18.5, rich: {
        i: { fontFamily: FONT, fontStyle: "italic", fontSize: TITLE_FONT, color: "#111" },
        s: { fontFamily: FONT, fontStyle: "italic", fontSize: 11, color: "#111", padding: [6, 0, 0, 0] },
      } },
    });
    xAxis[i] = {
      type: "value", gridIndex: i, min: -3, max: 0, name: "{g|γ}{s|σ²}", nameLocation: "middle", nameGap: 28,
      nameTextStyle: { rich: nameRich },
      axisLine: { show: false }, splitLine: { show: false }, axisTick: { ...tick, customValues: xTicks },
      axisLabel: { customValues: xTicks, fontFamily: FONT, fontSize: TICK_FONT, color: "#111", margin: 7, formatter: (v: number) => minus(v.toFixed(1)) },
    };
    yAxis[i] = {
      type: "value", gridIndex: i, min: 0, max: 2.8, name: "{g|γ}{s|w}", nameLocation: "middle", nameGap: 37, nameRotate: 90,
      nameTextStyle: { rich: nameRich },
      axisLine: { show: false }, splitLine: { show: false }, axisTick: { ...tick, customValues: yTicks },
      axisLabel: { customValues: yTicks, fontFamily: FONT, fontSize: TICK_FONT, color: "#111", margin: 9, formatter: (v: number) => v.toFixed(1) },
    };
    xAxis[cb] = { type: "value", gridIndex: cb, min: 0, max: 1, show: false };
    yAxis[cb] = {
      type: "value", gridIndex: cb, position: "right", min: p.levels[0], max: p.levels[p.levels.length - 1],
      name: p.unit, nameLocation: "middle", nameGap: p.cbGap, nameRotate: 90, nameTextStyle: { fontFamily: FONT, fontSize: TICK_FONT, color: "#111" },
      axisLine: { show: false, onZero: false }, splitLine: { show: false }, axisTick: { ...tick, customValues: p.ticks },
      axisLabel: { customValues: p.ticks, fontFamily: FONT, fontSize: TICK_FONT, color: "#111", margin: 8, formatter: (v: number) => minus(v.toFixed(p.digits)) },
    };
    series.push({
      type: "custom", xAxisIndex: i, yAxisIndex: i, silent: true, clip: true, z: 2, progressive: 0, data: p.bands.map((_, k) => [k]),
      renderItem: (q: any, api: any) => {
        const [idx, ring] = p.bands[q.dataIndex];
        return { type: "polygon", shape: { points: ring.map((c) => api.coord(c)), smooth: 0.3 }, style: { fill: colors[idx], stroke: colors[idx], lineWidth: 0.4 } };
      },
    });
    series.push({
      type: "custom", xAxisIndex: cb, yAxisIndex: cb, silent: true, z: 2, progressive: 0, data: colors.map((_, k) => [k]),
      renderItem: (q: any, api: any) => {
        const k = q.dataIndex, a = api.coord([0, p.levels[k]]), b = api.coord([1, p.levels[k + 1]]);
        return { type: "rect", shape: { x: a[0], y: b[1], width: b[0] - a[0], height: a[1] - b[1] }, style: { fill: colors[k], stroke: colors[k], lineWidth: 0.3 } };
      },
    });
    p.contours.forEach((c) => series.push(lineSeries(i, c, "rgba(215,215,215,0.9)", 1.9)));
    (p.high || []).forEach((c) => series.push(lineSeries(i, c, "#a6a6aa", 2)));
    series.push(labelSeries(i, p.labels, "#ececec"));
    if (p.highLabels) series.push(labelSeries(i, p.highLabels, "#a6a6aa"));
    series.push(lineSeries(i, activeLine, "rgba(0,0,0,0.82)", 1.8, "Active vs lazy threshold", false));
    series.push(lineSeries(i, noiseLine, "rgba(205,40,40,0.82)", 1.8, "Infinite noise threshold", false));
    series.push(lineSeries(i, underLine, "rgba(255,140,0,0.95)", 1.8, "Underparameterized threshold", false));
    series.push({
      type: "custom", xAxisIndex: i, yAxisIndex: i, silent: true, z: 9, data: [[0]],
      renderItem: (_: any, api: any) => {
        const a = api.coord([-3, 0]), b = api.coord([0, 2.8]);
        return { type: "rect", shape: { x: a[0], y: b[1], width: b[0] - a[0], height: a[1] - b[1] }, style: { fill: "none", stroke: "#000", lineWidth: 1 } };
      },
    });
    series.push({
      type: "custom", xAxisIndex: cb, yAxisIndex: cb, silent: true, z: 9, data: [[0]],
      renderItem: (_: any, api: any) => {
        const a = api.coord([0, p.levels[0]]), b = api.coord([1, p.levels[p.levels.length - 1]]);
        return { type: "rect", shape: { x: a[0], y: b[1], width: b[0] - a[0], height: a[1] - b[1] }, style: { fill: "none", stroke: "#000", lineWidth: 1 } };
      },
    });
  });
  return {
    animation: false, backgroundColor: "#fff", title, grid, xAxis, yAxis, series,
    legend: {
      show: true, orient: "vertical", left: 63.3, top: 207.3, padding: [4, 5, 4, 5], itemGap: 4.4, itemWidth: 26, itemHeight: 1.8,
      icon: "rect", selectedMode: false, backgroundColor: "rgba(255,255,255,0.55)", borderRadius: 4, z: 20,
      textStyle: { fontFamily: FONT, fontSize: 12.3, color: "#222", padding: [0, 0, 0, 5], lineHeight: 14 },
      data: ["Active vs lazy threshold", "Infinite noise threshold", "Underparameterized threshold"],
    },
  };
}

export default function App() {
  const ref = useRef<HTMLDivElement>(null);
  useEffect(() => {
    document.body.style.margin = "0";
    const chart = echarts.init(ref.current!, undefined, { renderer: "svg" });
    chart.setOption(buildOption() as any);
    return () => chart.dispose();
  }, []);
  return <div ref={ref} style={{ width: 1006, height: 759 }} />;
}
